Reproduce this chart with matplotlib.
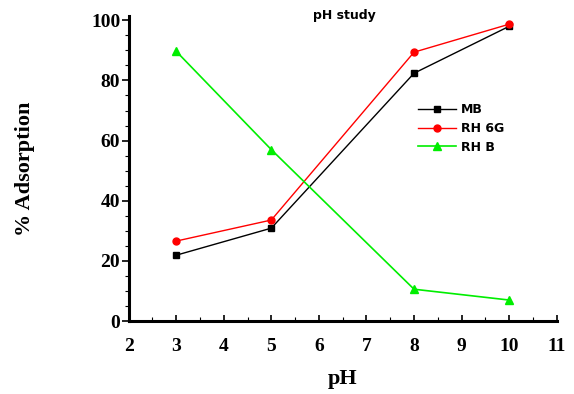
import matplotlib
matplotlib.use("Agg")
import matplotlib.pyplot as plt
from matplotlib.ticker import MultipleLocator

ph = [3, 5, 8, 10]
mb = [21.9, 30.9, 82.4, 98.0]
rh6g = [26.6, 33.6, 89.4, 98.7]
rhb = [89.7, 57.0, 10.6, 7.0]

fig = plt.figure(figsize=(5.74, 3.94), dpi=100)
ax = fig.add_axes([0.224, 0.185, 0.746, 0.775])

ax.plot(ph, mb, color="black", marker="s", markersize=5, linewidth=1.0, label="MB")
ax.plot(ph, rh6g, color="red", marker="o", markersize=5, linewidth=1.0, label="RH 6G")
ax.plot(ph, rhb, color="#00ee00", marker="^", markersize=6, linewidth=1.2, label="RH B")

ax.set_xlim(2, 11)
ax.set_ylim(0, 101.5)
ax.xaxis.set_major_locator(MultipleLocator(1))
ax.xaxis.set_minor_locator(MultipleLocator(0.5))
ax.yaxis.set_major_locator(MultipleLocator(20))
ax.yaxis.set_minor_locator(MultipleLocator(5))

for s in ["top", "right"]:
    ax.spines[s].set_visible(False)
for s in ["left", "bottom"]:
    ax.spines[s].set_linewidth(2.2)
ax.tick_params(axis="y", which="major", length=5, width=1.2, direction="out", pad=1)
ax.tick_params(axis="y", which="minor", length=3, width=0.8, direction="out")
ax.tick_params(axis="x", which="major", length=4, width=1.2, direction="in", pad=12)
ax.tick_params(axis="x", which="minor", length=3, width=0.8, direction="in")

serif = {"family": "Liberation Serif", "weight": "bold"}
for lab in ax.get_xticklabels() + ax.get_yticklabels():
    lab.set_fontfamily("Liberation Serif")
    lab.set_fontweight("bold")
    lab.set_fontsize(14)

ax.set_xlabel("pH", fontsize=16, labelpad=10, **serif)
ax.set_ylabel("% Adsorption", fontsize=16, labelpad=40, **serif)

fig.text(0.600, 0.978, "pH study", ha="center", va="top",
         fontsize=9, fontweight="bold", family="DejaVu Sans")

ax.legend(loc="upper left", bbox_to_anchor=(0.65, 0.75), frameon=False,
          prop={"family": "DejaVu Sans", "weight": "bold", "size": 9},
          handlelength=3.0, labelspacing=0.45, handletextpad=0.4)

fig.savefig("out.png", dpi=100)
